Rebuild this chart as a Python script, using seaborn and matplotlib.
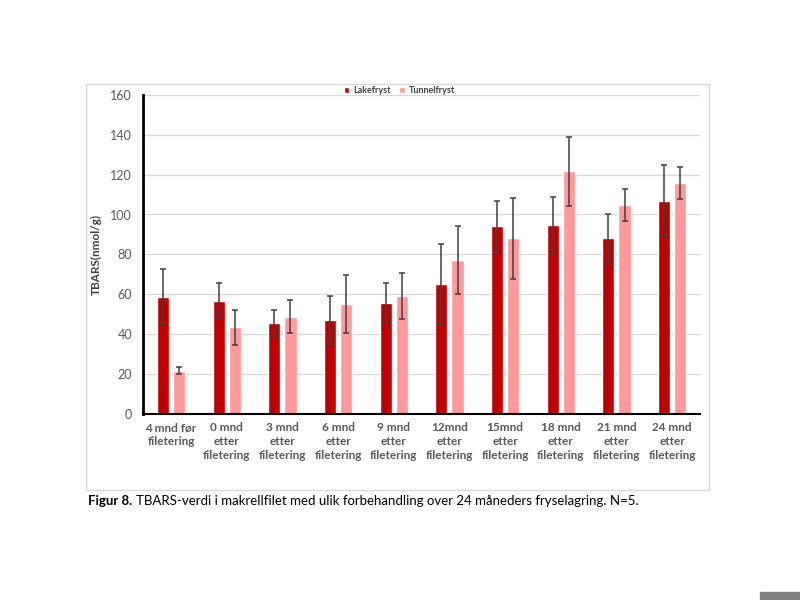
import pandas as pd
import numpy as np
import matplotlib
matplotlib.use("Agg")
import matplotlib.pyplot as plt
import seaborn as sbn
from matplotlib.patches import Rectangle

# Data
categories = ["4 mnd før\nfiletering", "0 mnd\netter\nfiletering", "3 mnd\netter\nfiletering",
              "6 mnd\netter\nfiletering", "9 mnd\netter\nfiletering", "12mnd\netter\nfiletering",
              "15mnd\netter\nfiletering", "18 mnd\netter\nfiletering", "21 mnd\netter\nfiletering",
              "24 mnd\netter\nfiletering"]
lake = [58.8, 56.8, 45.6, 47.3, 55.8, 65.3, 94.0, 94.5, 88.0, 107.0]
lake_err = [13.7, 9.0, 6.3, 12.0, 9.8, 20.0, 13.0, 14.5, 12.0, 18.0]
tunnel = [21.7, 43.4, 48.7, 55.0, 59.0, 77.0, 88.0, 121.7, 104.8, 115.8]
tunnel_err = [1.8, 8.7, 8.2, 14.5, 11.5, 17.0, 20.5, 17.2, 8.0, 8.2]
series = ["Lakefryst", "Tunnelfryst"]
colors = ["#C00000", "#FF9999"]

dataFrame = pd.DataFrame({
    "kategori": categories * 2,
    "verdi": lake + tunnel,
    "serie": [series[0]] * len(categories) + [series[1]] * len(categories),
})

sbn.set_style("white")
plt.rcParams["font.family"] = ["Lato", "DejaVu Sans"]

fig = plt.figure(figsize=(8, 6), dpi=100)
ax = fig.add_axes([0.179, 0.31, 0.696, 0.532])

sbn.barplot(data=dataFrame, x="kategori", y="verdi", hue="serie", palette=colors,
            width=0.58, gap=0.25, errorbar=None, saturation=1, ax=ax)

# error bars on top of the bars
for container, errs in zip(ax.containers, [lake_err, tunnel_err]):
    xs = [p.get_x() + p.get_width() / 2 for p in container.patches]
    hs = [p.get_height() for p in container.patches]
    ax.errorbar(xs, hs, yerr=errs, fmt="none", ecolor="#404040", elinewidth=1.1,
                capsize=2, capthick=1.1, zorder=4)

ax.set_ylim(0, 160)
ax.set_xlim(-0.5, len(categories) - 0.5)
ax.set_yticks(np.arange(0, 161, 20))
ax.yaxis.grid(True, color="#D9D9D9", linewidth=1)
ax.set_axisbelow(True)
ax.tick_params(axis="y", length=0, pad=8, labelsize=9, labelcolor="#595959")
ax.tick_params(axis="x", length=0, pad=6, labelsize=8.5, labelcolor="#595959")
for lbl in ax.get_xticklabels():
    lbl.set_fontweight("bold")
    lbl.set_linespacing(1.3)
ax.set_xlabel("")
ax.set_ylabel("TBARS(nmol/g)", fontsize=8.5, fontweight="bold", color="#404040", labelpad=6)

for side in ["top", "right"]:
    ax.spines[side].set_visible(False)
ax.spines["left"].set_color("black")
ax.spines["left"].set_linewidth(2)
ax.spines["bottom"].set_color("black")
ax.spines["bottom"].set_linewidth(1.5)

leg = ax.legend(loc="center", bbox_to_anchor=(0.46, 1.012), ncol=2, frameon=False,
                fontsize=6.5, handlelength=0.6, handleheight=0.6, handletextpad=0.4,
                columnspacing=1.0, borderpad=0)
for t in leg.get_texts():
    t.set_fontweight("bold")
    t.set_color("#404040")

# chart frame
fig.patches.append(Rectangle((86 / 800, 1 - 490 / 600), (709 - 86) / 800, (490 - 84) / 600,
                             transform=fig.transFigure, fill=False, edgecolor="#D9D9D9",
                             linewidth=1))

# caption
t1 = fig.text(88 / 800, 1 - 501 / 600, "Figur 8.", fontsize=9.5, fontweight="bold",
              va="center", ha="left", color="black")
fig.canvas.draw()
bb = t1.get_window_extent()
fig.text((bb.x1 + 4) / 800, 1 - 501 / 600,
         "TBARS-verdi i makrellfilet med ulik forbehandling over 24 måneders fryselagring. N=5.",
         fontsize=9.5, va="center", ha="left", color="black")

# grey marker in the corner
fig.patches.append(Rectangle((760 / 800, 0), 40 / 800, 8 / 600, transform=fig.transFigure,
                             color="#808080"))

fig.savefig("out.png", dpi=100)
